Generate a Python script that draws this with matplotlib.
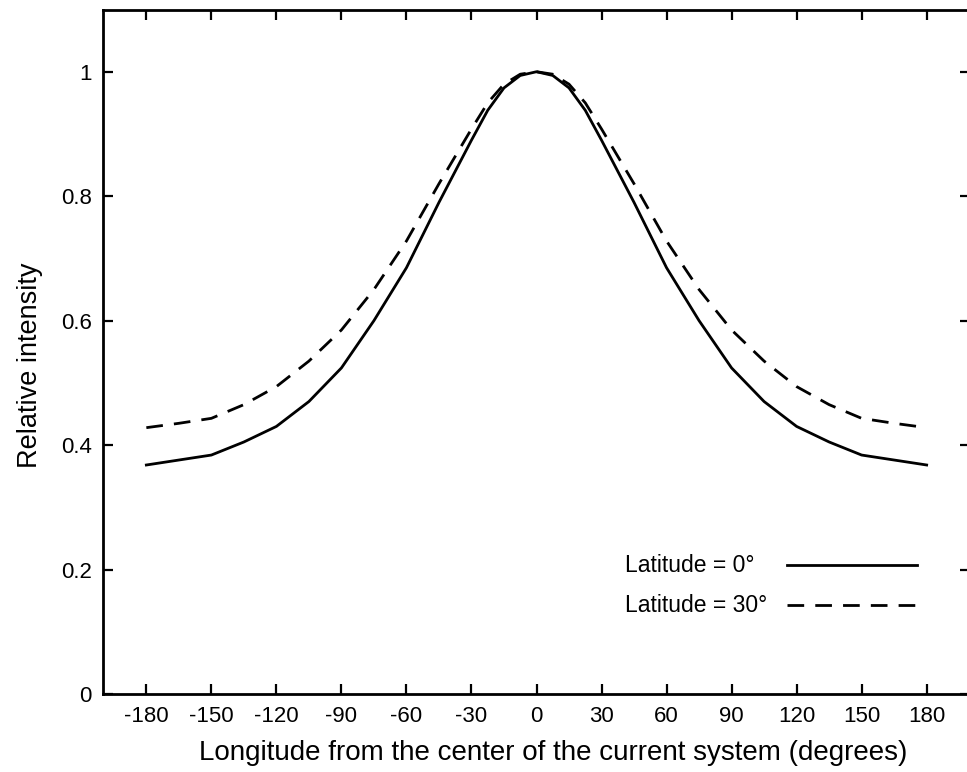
import matplotlib
matplotlib.use("Agg")
import matplotlib.pyplot as plt
from matplotlib.lines import Line2D

plt.rcParams['font.family'] = ['Liberation Sans', 'DejaVu Sans']

longitude = [-180, -165, -150, -135, -120, -105, -90, -75, -60, -45, -30, -22.5, -15, -7.5, 0,
             7.5, 15, 22.5, 30, 45, 60, 75, 90, 105, 120, 135, 150, 165, 180]
lat0 = [0.368, 0.376, 0.384, 0.405, 0.430, 0.470, 0.524, 0.600, 0.685, 0.790, 0.890, 0.938, 0.974, 0.994, 1.0,
        0.994, 0.974, 0.938, 0.890, 0.790, 0.685, 0.600, 0.524, 0.470, 0.430, 0.405, 0.384, 0.376, 0.368]
lat30 = [0.428, 0.435, 0.443, 0.465, 0.494, 0.535, 0.585, 0.650, 0.728, 0.820, 0.908, 0.950, 0.980, 0.996, 1.0,
         0.996, 0.980, 0.950, 0.908, 0.820, 0.728, 0.650, 0.585, 0.535, 0.494, 0.465, 0.443, 0.435, 0.428]
series_labels = ['Latitude = 0°', 'Latitude = 30°']
xticks = [-180, -150, -120, -90, -60, -30, 0, 30, 60, 90, 120, 150, 180]
yticks = [0, 0.2, 0.4, 0.6, 0.8, 1]
ytick_labels = ['0', '0.2', '0.4', '0.6', '0.8', '1']

W, H = 967, 772
ax_l, ax_r, ax_t, ax_b = 103, 970, 9.5, 694
fig = plt.figure(figsize=(W/100, H/100), dpi=100)
ax = fig.add_axes([ax_l/W, 1-ax_b/H, (ax_r-ax_l)/W, (ax_b-ax_t)/H])

styles = ['-', (0, (6, 4))]
for vals, lab, ls in zip([lat0, lat30], series_labels, styles):
    ax.plot(longitude, vals, color='black', lw=2.0, linestyle=ls, label=lab)

ax.set_xlim(-200, 200)
ax.set_ylim(0, 1.1)
ax.set_xticks(xticks)
ax.set_xticklabels([str(v) for v in xticks])
ax.set_yticks(yticks)
ax.set_yticklabels(ytick_labels)
ax.tick_params(direction='in', length=7, width=1.6, labelsize=16,
               top=True, right=True)
ax.tick_params(axis='x', pad=9)
ax.tick_params(axis='y', pad=8)
for s in ax.spines.values():
    s.set_linewidth(2)

ax.set_xlabel('Longitude from the center of the current system (degrees)', fontsize=20, labelpad=9)
ax.set_ylabel('Relative intensity', fontsize=19.5, labelpad=13)
ax.xaxis.label.set_x((553 - ax_l) / (ax_r - ax_l))
ax.yaxis.label.set_y((ax_b - 365) / (ax_b - ax_t))

# legend: left-aligned text, line sample on the right
def ax_x(px):
    return (px - ax_l) / (ax_r - ax_l)

def ax_y(py):
    return (ax_b - py) / (ax_b - ax_t)

for i, (lab, ls) in enumerate(zip(series_labels, styles)):
    yy = ax_y(565 + 40 * i)
    ax.text(ax_x(625), yy, lab, transform=ax.transAxes, fontsize=16.5,
            ha='left', va='center')
    ax.add_line(Line2D([ax_x(787), ax_x(917)], [yy, yy], transform=ax.transAxes,
                       color='black', lw=2.0, linestyle=ls, clip_on=False))

fig.savefig('out.png', dpi=100)
